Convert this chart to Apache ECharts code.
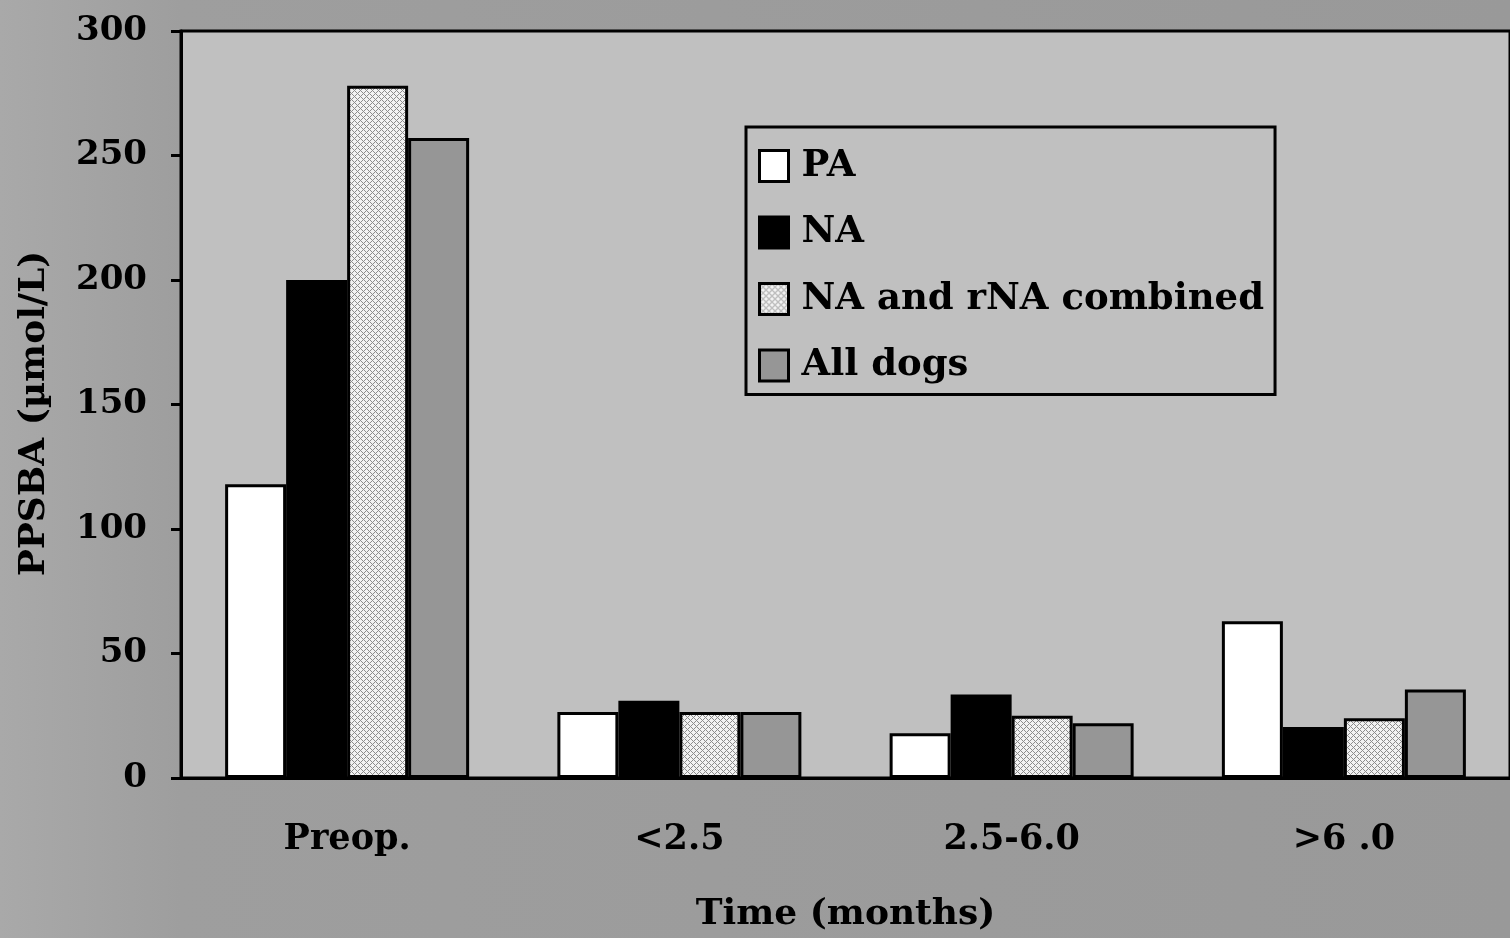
<!DOCTYPE html>
<html>
<head>
<meta charset="utf-8">
<script src="https://cdn.jsdelivr.net/npm/echarts@6/dist/echarts.min.js"></script>
<style>html,body{margin:0;padding:0;}#c{width:1510px;height:938px;}</style>
</head>
<body>
<div id="c"></div>
<script>
var categories = ['Preop.', '<2.5', '2.5-6.0', '>6 .0'];
var seriesNames = ['PA', 'NA', 'NA and rNA combined', 'All dogs'];
var paValues = [118, 26.5, 18, 63];
var naValues = [200, 31, 33.5, 20.5];
var combinedValues = [278, 26.5, 25, 24];
var allDogsValues = [257, 26.5, 22, 35.5];
var yTicks = [0, 50, 100, 150, 200, 250, 300];

var FONT = "'DejaVu Serif', 'Liberation Serif', serif";

var pc = document.createElement('canvas');
pc.width = 6; pc.height = 6;
var pctx = pc.getContext('2d');
pctx.fillStyle = '#f2f2f2';
pctx.fillRect(0, 0, 6, 6);
pctx.fillStyle = '#8c8c8c';
for (var x = 0; x < 6; x++) {
  for (var y = 0; y < 6; y++) {
    if ((x + y) % 6 === 0 || ((x - y) + 6) % 6 === 0) pctx.fillRect(x, y, 1, 1);
  }
}
var hatch = { image: pc, repeat: 'repeat' };

function bar(name, data, color) {
  return {
    name: name, type: 'bar', data: data, barWidth: 61, barGap: '0%',
    itemStyle: { color: color, borderColor: '#000', borderWidth: 3 }
  };
}

var chart = echarts.init(document.getElementById('c'));
chart.setOption({
  backgroundColor: {
    type: 'linear', x: 0, y: 0, x2: 1, y2: 0,
    colorStops: [{ offset: 0, color: '#a9a9a9' }, { offset: 0.12, color: '#9e9e9e' }, { offset: 1, color: '#999999' }]
  },
  animation: false,
  grid: {
    left: 181, top: 31, width: 1337, bottom: 159,
    show: true, backgroundColor: '#c0c0c0', borderColor: '#000', borderWidth: 3
  },
  legend: {
    orient: 'vertical', left: 746, top: 127,
    padding: [19, 11, 9, 12],
    icon: 'rect',
    itemGap: 26.5, itemWidth: 29, itemHeight: 31,
    backgroundColor: '#c0c0c0', borderColor: '#000', borderWidth: 3,
    textStyle: { fontFamily: FONT, fontWeight: 'bold', fontSize: 37, color: '#000', lineHeight: 40, padding: [0, 0, 0, 8] },
    itemStyle: { borderColor: '#000', borderWidth: 3 },
    data: seriesNames
  },
  xAxis: {
    type: 'category', data: categories,
    axisLine: { lineStyle: { color: '#000', width: 3 } },
    axisTick: { show: false },
    axisLabel: { fontFamily: FONT, fontWeight: 'bold', fontSize: 35, color: '#000', margin: 44 },
    name: 'Time (months)', nameLocation: 'middle', nameGap: 119,
    nameTextStyle: { fontFamily: FONT, fontWeight: 'bold', fontSize: 36, color: '#000' }
  },
  yAxis: {
    type: 'value', min: yTicks[0], max: yTicks[yTicks.length - 1], interval: 50,
    axisLine: { show: true, lineStyle: { color: '#000', width: 3 } },
    axisTick: { show: true, length: 10, lineStyle: { color: '#000', width: 3 } },
    splitLine: { show: false },
    axisLabel: { fontFamily: FONT, fontWeight: 'bold', fontSize: 34, color: '#000', margin: 34 },
    name: 'PPSBA (µmol/L)', nameLocation: 'middle', nameGap: 128,
    nameTextStyle: { fontFamily: FONT, fontWeight: 'bold', fontSize: 36, color: '#000', padding: [0, 18, 0, 0] }
  },
  series: [
    bar(seriesNames[0], paValues, '#ffffff'),
    bar(seriesNames[1], naValues, '#000000'),
    bar(seriesNames[2], combinedValues, hatch),
    bar(seriesNames[3], allDogsValues, '#969696')
  ]
});
</script>
</body>
</html>
